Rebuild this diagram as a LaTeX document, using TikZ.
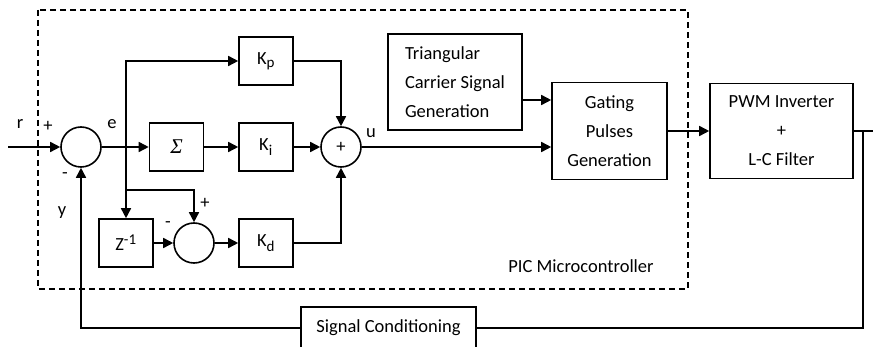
\documentclass[tikz,border=0pt]{standalone}
\usepackage{fontspec}
\setmainfont{Carlito}
\newfontfamily\sigfont{Liberation Serif}
\usepackage{tikz}
\usetikzlibrary{arrows.meta,positioning}
\tikzset{
    %Define standard arrow tip
    >={Triangle[length=10pt,width=10pt]},
    %Define style for boxes
    blok/.style={
           rectangle,
           draw=black, line width=1.6pt,
           minimum width=54pt,
           minimum height=48pt,
           inner sep=0pt,
           text centered},
    bigblok/.style={
           rectangle,
           draw=black, line width=1.6pt,
           inner sep=0pt},
    summer/.style={
           circle,
           draw=black, line width=1.6pt,
           minimum size=40pt,
           inner sep=0pt},
    lbl/.style={
           inner sep=0pt},
    % Define arrow style
    pil/.style={
           ->,
           line width=1.6pt},
    wire/.style={
           line width=1.6pt}
}
\begin{document}
\begin{tikzpicture}[x=1pt,y=-1pt,font=\fontsize{18.5}{29}\selectfont]
\clip (0,0) rectangle (873,347);

 %controller border
\draw[wire, dash pattern=on 6pt off 4pt] (38,10) rectangle (688,289);
\node[lbl](pic) at (581,266){PIC Microcontroller};

 %nodes
\node[summer](s1) at (81,147){};
\node[blok](sig) at (176.5,147){\sigfont\itshape\fontsize{21}{21}\selectfont Σ};
\node[blok](kp) at (266,61){K\textsubscript{\fontsize{15}{15}\selectfont p}};
\node[blok](ki) at (266,147){K\textsubscript{\fontsize{15}{15}\selectfont i}};
\node[blok](kd) at (266,243){K\textsubscript{\fontsize{15}{15}\selectfont d}};
\node[blok](z) at (126,243){Z\textsuperscript{\fontsize{15}{15}\selectfont -1}};
\node[summer](sd) at (194,243){};
\node[summer](s2) at (341,147){+};
\node[bigblok, minimum width=134pt, minimum height=96pt, align=left](tri) at (455,82){Triangular\\Carrier Signal\\Generation};
\node[bigblok, minimum width=115pt, minimum height=97pt, align=center](gate) at (609.5,131){Gating\\Pulses\\Generation};
\node[bigblok, minimum width=143pt, minimum height=95pt, align=center](pwm) at (781.5,131){PWM Inverter\\+\\L-C Filter};
\node[bigblok, minimum width=175pt, minimum height=42pt](sc) at (388.5,328){Signal Conditioning};

 %labels
\node[lbl](r) at (20,124){r};
\node[lbl](rp) at (48,126){+};
\node[lbl](ym) at (65,176){-};
\node[lbl](y) at (62,213){y};
\node[lbl](e) at (112,124){e};
\node[lbl](dm) at (168,225){-};
\node[lbl](dp) at (205,203){+};
\node[lbl](u) at (371,133){u};

 %branch points
\coordinate (in) at (8,147);
\coordinate (b1) at (126,147);
\coordinate (b2) at (126,190);
\coordinate (b3) at (863,131);
\coordinate (out) at (880,131);

 %connectors
\draw[pil] (in) -- (s1.west);
\draw[pil] (s1.east) -- (sig.west);
\draw[pil] (b1) |- (kp.west);
\draw[pil] (b1) -- (z.north);
\draw[pil] (b2) -| (sd.north);
\path
    (z) edge[pil] (sd)
    (sd) edge[pil] (kd)
    (sig) edge[pil] (ki)
    (ki) edge[pil] (s2);
\draw[pil] (kp.east) -| (s2.north);
\draw[pil] (kd.east) -| (s2.south);
\draw[pil] (s2.east) -- (s2.east -| gate.west);
\draw[pil] ([yshift=-18pt]tri.east) -- ([yshift=-18pt]tri.east -| gate.west);
\draw[pil] (gate.east) -- (pwm.west);
\draw[wire] (pwm.east) -- (out);
\draw[wire] (b3) |- (sc.east);
\draw[pil] (sc.west) -| (s1.south);

\end{tikzpicture}
\end{document}
